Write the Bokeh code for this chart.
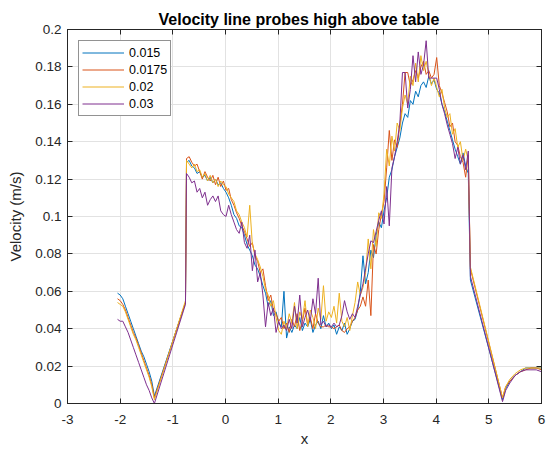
from bokeh.plotting import figure
from bokeh.models import (FixedTicker, CustomJSTickFormatter, LinearAxis, Range1d)
from bokeh.embed import file_html
from bokeh.resources import INLINE

# ---------------- data ----------------
title_text = "Velocity line probes high above table"
x_label = "x"
y_label = "Velocity (m/s)"
series_names = ["0.015", "0.0175", "0.02", "0.03"]
series_colors = ["#0072BD", "#D95319", "#EDB120", "#7E2F8E"]
x_ticks = [-3, -2, -1, 0, 1, 2, 3, 4, 5, 6]
y_ticks = [0, 0.02, 0.04, 0.06, 0.08, 0.1, 0.12, 0.14, 0.16, 0.18, 0.2]

# left part (before the table edge)
x_left = [-2.05, -2.0, -1.95, -1.9, -1.85, -1.8, -1.75, -1.7, -1.65, -1.6,
          -1.55, -1.5, -1.45, -1.4, -1.35, -0.76]
blue_left = [0.059, 0.058, 0.056, 0.052, 0.048, 0.044, 0.040, 0.036, 0.032, 0.028,
             0.025, 0.021, 0.017, 0.012, 0.004, 0.054]
orange_left = [0.056, 0.055, 0.053, 0.050, 0.046, 0.042, 0.038, 0.035, 0.031, 0.027,
               0.023, 0.019, 0.015, 0.010, 0.003, 0.054]
yellow_left = [0.054, 0.053, 0.052, 0.049, 0.045, 0.041, 0.037, 0.034, 0.030, 0.026,
               0.022, 0.018, 0.014, 0.009, 0.002, 0.055]
purple_left = [0.045, 0.044, 0.044, 0.041, 0.038, 0.034, 0.030, 0.026, 0.022, 0.018,
               0.014, 0.010, 0.007, 0.003, 0.000, 0.053]

# middle part (noisy region)
x_mid = [-0.74, -0.69, -0.64, -0.59, -0.54, -0.49, -0.44, -0.39, -0.34, -0.29,
         -0.24, -0.19, -0.14, -0.09, -0.04, 0.01, 0.06, 0.11, 0.16, 0.21,
         0.26, 0.31, 0.36, 0.41, 0.46, 0.51, 0.56, 0.61, 0.66, 0.71,
         0.76, 0.81, 0.86, 0.91, 0.96, 1.01, 1.06, 1.11, 1.16, 1.21,
         1.26, 1.31, 1.36, 1.41, 1.46, 1.51, 1.56, 1.61, 1.66, 1.71,
         1.76, 1.81, 1.86, 1.91, 1.96, 2.01, 2.06, 2.11, 2.16, 2.21,
         2.26, 2.31, 2.36, 2.41, 2.46, 2.51, 2.56, 2.61, 2.66, 2.71,
         2.76, 2.81, 2.86, 2.91, 2.96, 3.01, 3.06, 3.11, 3.16, 3.21,
         3.26, 3.31, 3.36, 3.41, 3.46, 3.51, 3.56, 3.61, 3.66, 3.71,
         3.76, 3.81, 3.86, 3.91, 3.96, 4.01, 4.06, 4.11, 4.16, 4.21,
         4.26, 4.31, 4.36, 4.41, 4.46, 4.51, 4.56, 4.61]
blue_mid = [0.129, 0.130, 0.127, 0.126, 0.123, 0.124, 0.121, 0.122, 0.119, 0.121,
            0.118, 0.120, 0.117, 0.118, 0.115, 0.113, 0.110, 0.106, 0.101, 0.099,
            0.095, 0.094, 0.090, 0.085, 0.082, 0.079, 0.074, 0.072, 0.068, 0.063,
            0.059, 0.052, 0.055, 0.047, 0.049, 0.043, 0.041, 0.060, 0.035, 0.041,
            0.038, 0.042, 0.040, 0.046, 0.039, 0.043, 0.041, 0.045, 0.038, 0.042,
            0.044, 0.040, 0.047, 0.041, 0.043, 0.040, 0.042, 0.037, 0.041, 0.039,
            0.043, 0.037, 0.040, 0.044, 0.045, 0.050, 0.060, 0.079, 0.064, 0.070,
            0.082, 0.078, 0.090, 0.097, 0.094, 0.103, 0.110, 0.121, 0.125, 0.132,
            0.137, 0.142, 0.150, 0.155, 0.153, 0.162, 0.160, 0.167, 0.164, 0.170,
            0.172, 0.169, 0.175, 0.171, 0.173, 0.168, 0.166, 0.160, 0.156, 0.151,
            0.146, 0.141, 0.136, 0.132, 0.128, 0.134, 0.127, 0.123]
orange_mid = [0.131, 0.132, 0.129, 0.127, 0.128, 0.124, 0.120, 0.124, 0.121, 0.119,
              0.122, 0.117, 0.121, 0.116, 0.119, 0.114, 0.115, 0.109, 0.106, 0.102,
              0.099, 0.095, 0.092, 0.088, 0.084, 0.086, 0.079, 0.076, 0.070, 0.072,
              0.063, 0.055, 0.058, 0.050, 0.048, 0.044, 0.046, 0.040, 0.043, 0.038,
              0.045, 0.041, 0.048, 0.039, 0.044, 0.051, 0.042, 0.046, 0.040, 0.048,
              0.043, 0.041, 0.041, 0.042, 0.041, 0.041, 0.040, 0.041, 0.042, 0.039,
              0.038, 0.040, 0.041, 0.044, 0.046, 0.050, 0.052, 0.057, 0.052, 0.066,
              0.047, 0.085, 0.080, 0.093, 0.101, 0.108, 0.126, 0.146, 0.130, 0.141,
              0.137, 0.149, 0.160, 0.177, 0.177, 0.170, 0.173, 0.178, 0.174, 0.180,
              0.183, 0.176, 0.178, 0.174, 0.176, 0.185, 0.170, 0.166, 0.161, 0.156,
              0.148, 0.150, 0.140, 0.138, 0.132, 0.129, 0.121, 0.133]
yellow_mid = [0.130, 0.128, 0.126, 0.128, 0.124, 0.125, 0.121, 0.123, 0.119, 0.122,
              0.118, 0.120, 0.116, 0.119, 0.117, 0.116, 0.112, 0.110, 0.108, 0.103,
              0.101, 0.097, 0.094, 0.089, 0.106, 0.085, 0.080, 0.077, 0.073, 0.068,
              0.061, 0.058, 0.052, 0.055, 0.046, 0.039, 0.037, 0.044, 0.040, 0.048,
              0.043, 0.054, 0.040, 0.049, 0.045, 0.055, 0.041, 0.050, 0.046, 0.040,
              0.051, 0.045, 0.063, 0.044, 0.049, 0.046, 0.052, 0.043, 0.059, 0.044,
              0.041, 0.046, 0.039, 0.047, 0.054, 0.065, 0.058, 0.062, 0.070, 0.088,
              0.072, 0.093, 0.084, 0.102, 0.099, 0.112, 0.136, 0.127, 0.143, 0.135,
              0.150, 0.146, 0.158, 0.165, 0.160, 0.175, 0.170, 0.182, 0.172, 0.186,
              0.178, 0.183, 0.176, 0.170, 0.174, 0.169, 0.164, 0.168, 0.158, 0.153,
              0.155, 0.144, 0.147, 0.137, 0.140, 0.130, 0.136, 0.130]
purple_mid = [0.123, 0.121, 0.118, 0.119, 0.113, 0.115, 0.110, 0.113, 0.106, 0.109,
              0.111, 0.108, 0.111, 0.103, 0.101, 0.100, 0.106, 0.101, 0.097, 0.093,
              0.091, 0.097, 0.086, 0.083, 0.090, 0.071, 0.082, 0.065, 0.070, 0.058,
              0.041, 0.054, 0.047, 0.051, 0.038, 0.044, 0.040, 0.042, 0.039, 0.045,
              0.040, 0.052, 0.043, 0.058, 0.041, 0.046, 0.050, 0.044, 0.056, 0.048,
              0.067, 0.042, 0.044, 0.041, 0.042, 0.041, 0.043, 0.041, 0.042, 0.047,
              0.055, 0.049, 0.045, 0.048, 0.046, 0.052, 0.058, 0.064, 0.072, 0.080,
              0.087, 0.086, 0.092, 0.098, 0.103, 0.096, 0.116, 0.095, 0.126, 0.132,
              0.140, 0.150, 0.177, 0.177, 0.158, 0.168, 0.186, 0.172, 0.188, 0.176,
              0.181, 0.194, 0.174, 0.174, 0.174, 0.174, 0.168, 0.160, 0.155, 0.149,
              0.144, 0.139, 0.131, 0.137, 0.128, 0.133, 0.125, 0.135]

# right part (after the table)
x_right = [4.65, 5.26, 5.32, 5.4, 5.5, 5.6, 5.7, 5.8, 5.9, 6.0]
blue_right = [0.066, 0.002, 0.008, 0.012, 0.015, 0.017, 0.019, 0.019, 0.019, 0.019]
orange_right = [0.072, 0.003, 0.009, 0.012, 0.015, 0.017, 0.018, 0.019, 0.019, 0.018]
yellow_right = [0.073, 0.003, 0.009, 0.013, 0.016, 0.018, 0.019, 0.019, 0.019, 0.019]
purple_right = [0.068, 0.001, 0.007, 0.011, 0.015, 0.017, 0.018, 0.018, 0.018, 0.017]

series_y = [
    blue_left + blue_mid + blue_right,
    orange_left + orange_mid + orange_right,
    yellow_left + yellow_mid + yellow_right,
    purple_left + purple_mid + purple_right,
]
x_all = x_left + x_mid + x_right

# ---------------- figure ----------------
FONT = "Liberation Sans"
DARK = "#262626"

p = figure(width=547, height=454, x_range=Range1d(-3, 6), y_range=Range1d(0, 0.2),
           output_backend="svg", toolbar_location=None,
           min_border_left=67, min_border_right=6, min_border_top=29, min_border_bottom=51)
p.background_fill_color = "white"
p.border_fill_color = "white"
p.outline_line_color = DARK
p.outline_line_width = 1

p.title.text = title_text
p.title.align = "left"
p.title.offset = 91
p.title.vertical_align = "top"
p.title.text_line_height = 1.5
p.title.text_font = FONT
p.title.text_font_size = "16px"
p.title.text_font_style = "bold"
p.title.text_color = "black"
p.title.standoff = 0

fmt = CustomJSTickFormatter(code="return String(parseFloat(tick.toFixed(4)));")
blank = CustomJSTickFormatter(code="return '';")

for ax, ticks in ((p.xaxis[0], x_ticks), (p.yaxis[0], y_ticks)):
    ax.ticker = FixedTicker(ticks=ticks)
    ax.formatter = fmt
    ax.major_tick_in = 5
    ax.major_tick_out = 0
    ax.minor_tick_line_color = None
    ax.axis_line_color = DARK
    ax.major_tick_line_color = DARK
    ax.major_label_text_font = FONT
    ax.major_label_text_font_size = "13.5px"
    ax.major_label_text_color = DARK
    ax.axis_label_text_font = FONT
    ax.axis_label_text_font_size = "15px"
    ax.axis_label_text_font_style = "normal"
    ax.axis_label_text_color = DARK

p.xaxis.axis_label = x_label
p.yaxis.axis_label = y_label
p.xaxis.major_label_standoff = 11
p.yaxis.major_label_standoff = 6
p.xaxis.axis_label_standoff = 3
p.yaxis.axis_label_standoff = 8

# mirrored ticks on the top and right edges (box on)
for loc, ticks in (("right", y_ticks), ("above", x_ticks)):
    ax = LinearAxis(ticker=FixedTicker(ticks=ticks), formatter=blank,
                    major_tick_in=5, major_tick_out=0, minor_tick_line_color=None,
                    axis_line_color=DARK, major_tick_line_color=DARK,
                    major_label_standoff=0, major_label_text_font_size="1px")
    p.add_layout(ax, loc)

p.xgrid.ticker = FixedTicker(ticks=x_ticks)
p.ygrid.ticker = FixedTicker(ticks=y_ticks)
for g in (p.xgrid, p.ygrid):
    g.grid_line_color = "#e2e2e2"
    g.grid_line_width = 1

for name, color, ys in zip(series_names, series_colors, series_y):
    p.line(x_all, ys, line_color=color, line_width=1, line_alpha=1.0,
           legend_label=name)

lg = p.legend[0]
lg.location = "top_left"
lg.margin = 11
lg.padding = 3
lg.spacing = 0
lg.glyph_width = 42
lg.glyph_height = 17
lg.label_height = 17
lg.label_standoff = 5
lg.label_text_font = FONT
lg.label_text_font_size = "12.5px"
lg.label_text_color = "black"
lg.border_line_color = DARK
lg.border_line_width = 1
lg.background_fill_color = "white"
lg.background_fill_alpha = 1

open("out.html", "w").write(file_html(p, INLINE))
